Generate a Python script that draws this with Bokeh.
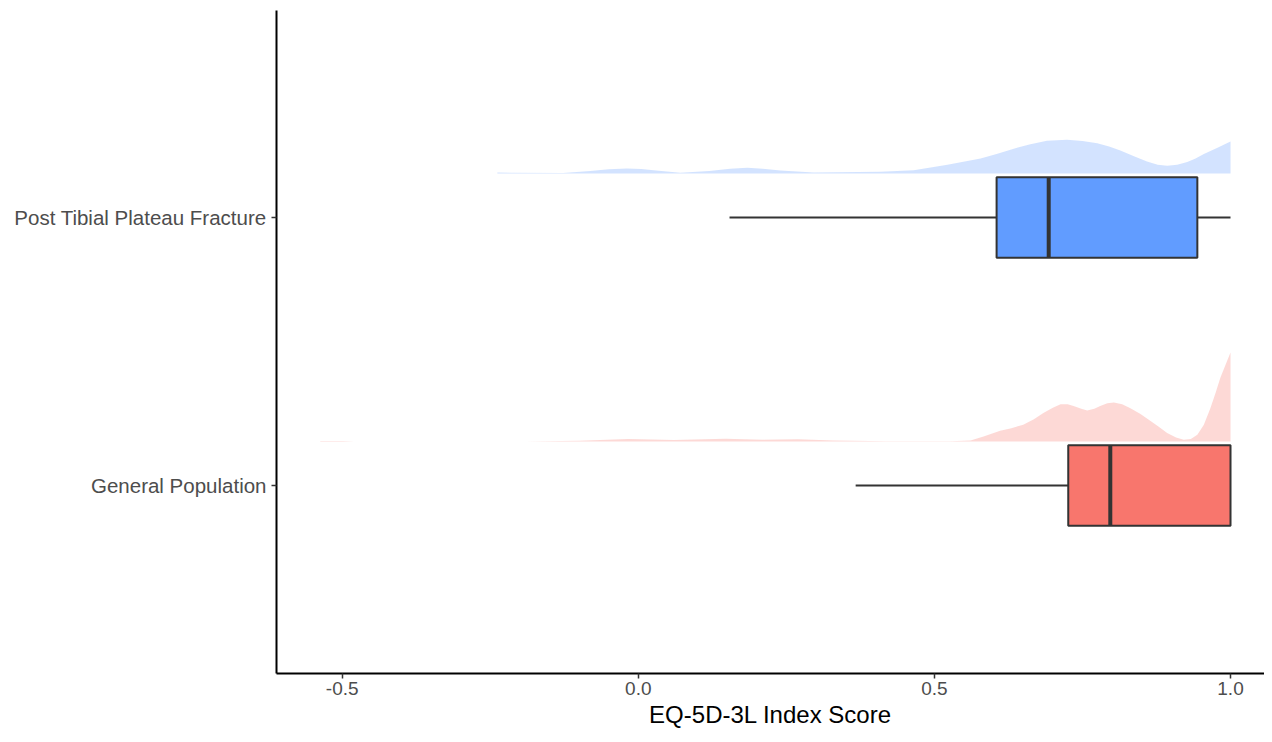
from bokeh.plotting import figure
from bokeh.models import FixedTicker, Range1d
from bokeh.embed import file_html
from bokeh.resources import INLINE

# ---------------- data ----------------
categories = ["General Population", "Post Tibial Plateau Fracture"]
cat_pos = [1, 2]
box_colors = ["#F8766D", "#619CFF"]
dens_colors = ["#F8766D", "#619CFF"]

whisker_low = [0.367, 0.154]
q1 = [0.726, 0.605]
median = [0.797, 0.693]
q3 = [1.0, 0.944]
whisker_high = [1.0, 1.0]

x_ticks = [-0.5, 0.0, 0.5, 1.0]
x_tick_labels = ["-0.5", "0.0", "0.5", "1.0"]

# density estimates (relative height; general population peak = 1)
gp_x = [-0.537, -0.50, -0.48, -0.19, -0.10, -0.017, 0.06, 0.147, 0.21, 0.269,
        0.33, 0.42, 0.50, 0.527, 0.561, 0.583, 0.611, 0.630, 0.650, 0.668,
        0.684, 0.700, 0.713, 0.725, 0.735, 0.748, 0.758, 0.770, 0.780, 0.792,
        0.803, 0.817, 0.831, 0.848, 0.865, 0.880, 0.893, 0.908, 0.921, 0.933,
        0.944, 0.955, 0.966, 0.975, 0.983, 0.992, 1.0]
gp_density = [0.005, 0.005, 0.0, 0.0, 0.01, 0.03, 0.018, 0.032, 0.02, 0.025,
              0.012, 0.003, 0.004, 0.004, 0.011, 0.057, 0.12, 0.15, 0.19, 0.25,
              0.32, 0.38, 0.42, 0.42, 0.40, 0.37, 0.35, 0.37, 0.40, 0.43,
              0.44, 0.42, 0.375, 0.31, 0.23, 0.16, 0.095, 0.045, 0.02, 0.03,
              0.076, 0.19, 0.375, 0.55, 0.72, 0.87, 1.0]

ptf_x = [-0.238, -0.127, -0.081, -0.050, -0.019, 0.005, 0.03, 0.071, 0.12, 0.155,
         0.184, 0.21, 0.24, 0.296, 0.409, 0.465, 0.522, 0.578, 0.605, 0.634,
         0.662, 0.690, 0.724, 0.750, 0.775, 0.795, 0.814, 0.837, 0.859, 0.877,
         0.893, 0.910, 0.927, 0.941, 0.955, 0.978, 1.0]
ptf_density = [0.011, 0.006, 0.03, 0.048, 0.056, 0.052, 0.035, 0.008, 0.03, 0.055,
               0.064, 0.055, 0.035, 0.011, 0.019, 0.037, 0.10, 0.17, 0.22, 0.28,
               0.33, 0.37, 0.38, 0.365, 0.34, 0.305, 0.26, 0.195, 0.135, 0.10,
               0.087, 0.10, 0.13, 0.17, 0.22, 0.29, 0.36]

# ---------------- figure ----------------
p = figure(width=1264, height=734, output_backend="svg", toolbar_location=None,
           x_range=Range1d(-0.611, 1.0574), y_range=Range1d(0.2985, 2.7724),
           min_border_left=276, min_border_right=0, min_border_top=10,
           min_border_bottom=61)
p.outline_line_color = None
p.xgrid.visible = False
p.ygrid.visible = False
p.background_fill_color = "white"
p.border_fill_color = "white"

dens_offset = 0.164
dens_scale = 0.332
box_half = 0.15

# densities
for xs, ds, pos, col in [(gp_x, gp_density, cat_pos[0], dens_colors[0]),
                         (ptf_x, ptf_density, cat_pos[1], dens_colors[1])]:
    base = pos + dens_offset
    p.varea(x=xs, y1=[base] * len(xs), y2=[base + d * dens_scale for d in ds],
            fill_color=col, fill_alpha=0.28)

# whiskers
for i, pos in enumerate(cat_pos):
    p.segment(x0=[whisker_low[i], q3[i]], y0=[pos, pos],
              x1=[q1[i], whisker_high[i]], y1=[pos, pos],
              line_color="#333333", line_width=2)

# boxes
p.quad(left=q1, right=q3, bottom=[c - box_half for c in cat_pos],
       top=[c + box_half for c in cat_pos], fill_color=box_colors,
       line_color="#333333", line_width=2)
# medians
p.segment(x0=median, x1=median, y0=[c - box_half for c in cat_pos],
          y1=[c + box_half for c in cat_pos], line_color="#333333", line_width=4)

# axes
for ax in (p.xaxis[0], p.yaxis[0]):
    ax.axis_line_color = "black"
    ax.axis_line_width = 2
    ax.major_tick_line_color = "#333333"
    ax.major_tick_line_width = 1.5
    ax.major_tick_out = 5
    ax.major_tick_in = 0
    ax.minor_tick_line_color = None
    ax.major_label_text_font = "Liberation Sans"
    ax.major_label_text_color = "#4D4D4D"

p.xaxis.major_label_standoff = 3
p.yaxis.major_label_standoff = 5

p.xaxis.ticker = FixedTicker(ticks=x_ticks)
p.xaxis.major_label_overrides = {t: l for t, l in zip(x_ticks, x_tick_labels)}
p.xaxis.major_label_text_font_size = "19px"
p.xaxis.axis_label = "EQ-5D-3L Index Score"
p.xaxis.axis_label_text_font = "Liberation Sans"
p.xaxis.axis_label_text_font_style = "normal"
p.xaxis.axis_label_text_font_size = "24px"
p.xaxis.axis_label_text_color = "black"
p.xaxis.axis_label_standoff = 3

p.yaxis.ticker = FixedTicker(ticks=cat_pos)
p.yaxis.major_label_overrides = {c: n for c, n in zip(cat_pos, categories)}
p.yaxis.major_label_text_font_size = "20.5px"

open("out.html", "w").write(file_html(p, INLINE))
